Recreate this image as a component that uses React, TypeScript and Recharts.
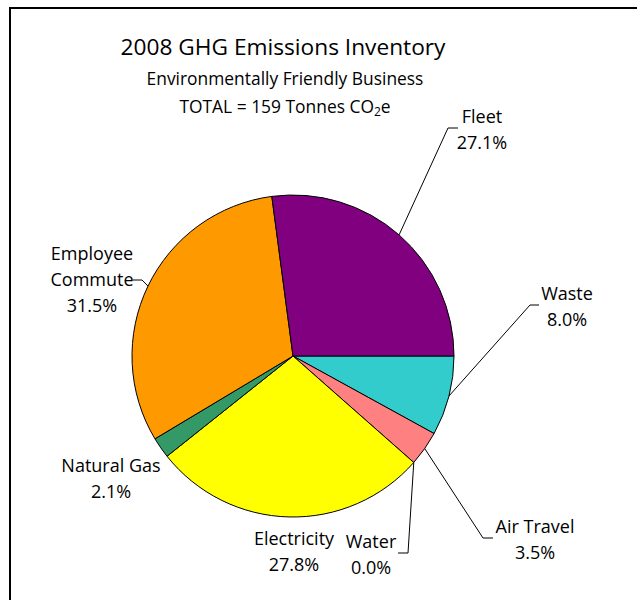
import React from 'react';
import { PieChart, Pie, Cell } from 'recharts';

const categories = ['Waste', 'Air Travel', 'Water', 'Electricity', 'Natural Gas', 'Employee Commute', 'Fleet'];
const shares = [8.0, 3.5, 0.0, 27.8, 2.1, 31.5, 27.1];
const sliceColors = ['#33CCCC', '#FF8080', '#3366FF', '#FFFF00', '#339966', '#FF9900', '#800080'];
const labelLines: Record<string, string[]> = {
  'Waste': ['Waste'],
  'Air Travel': ['Air Travel'],
  'Water': ['Water'],
  'Electricity': ['Electricity'],
  'Natural Gas': ['Natural Gas'],
  'Employee Commute': ['Employee', 'Commute'],
  'Fleet': ['Fleet'],
};
const titleText = '2008 GHG Emissions Inventory';
const subtitleText = 'Environmentally Friendly Business';

const data = categories.map((name, i) => ({ name, value: shares[i], color: sliceColors[i] }));

// label layout: text center x, first baseline y, leader elbow and end (null = no leader)
const labelLayout: Record<string, { x: number; y: number; elbow?: [number, number]; end?: [number, number] }> = {
  'Fleet': { x: 482, y: 123, elbow: [448, 128], end: [458, 128] },
  'Waste': { x: 567, y: 300, elbow: [530, 305], end: [539, 305] },
  'Air Travel': { x: 535, y: 533, elbow: [483, 538], end: [493, 538] },
  'Water': { x: 371, y: 548, elbow: [408, 553], end: [398, 553] },
  'Electricity': { x: 294, y: 545 },
  'Natural Gas': { x: 111, y: 472 },
  'Employee Commute': { x: 92, y: 260, elbow: [142, 280], end: [133, 280] },
};

const FONT = '"Open Sans", sans-serif';
const RADIAN = Math.PI / 180;

const renderLabel = (props: any) => {
  const { cx, cy, midAngle, outerRadius, name, value } = props;
  const lay = labelLayout[name];
  if (!lay) return null;
  const lines = [...labelLines[name], `${Number(value).toFixed(1)}%`];
  const ex = cx + outerRadius * Math.cos(-midAngle * RADIAN);
  const ey = cy + outerRadius * Math.sin(-midAngle * RADIAN);
  return (
    <g key={`lbl-${name}`}>
      {lay.elbow && lay.end && (
        <polyline
          points={`${ex},${ey} ${lay.elbow[0]},${lay.elbow[1]} ${lay.end[0]},${lay.end[1]}`}
          fill="none"
          stroke="#000"
          strokeWidth={1}
        />
      )}
      {lines.map((t, i) => (
        <text
          key={i}
          x={lay.x}
          y={lay.y + i * 26}
          textAnchor="middle"
          fontFamily={FONT}
          fontSize={18}
          fill="#000"
        >
          {t}
        </text>
      ))}
    </g>
  );
};

export default function App() {
  return (
    <div style={{ position: 'absolute', left: 0, top: 0, width: 637, height: 600, overflow: 'hidden', background: '#fff' }}>
      <div
        style={{
          position: 'absolute',
          left: 9,
          top: 7,
          width: 700,
          height: 700,
          border: '2px solid #000',
          boxSizing: 'border-box',
        }}
      />
      <svg width={637} height={600} style={{ position: 'absolute', left: 0, top: 0 }}>
        <text x={283} y={55} textAnchor="middle" fontFamily={FONT} fontSize={22.7} fill="#000">
          {titleText}
        </text>
        <text x={285} y={85} textAnchor="middle" fontFamily={FONT} fontSize={17.4} fill="#000">
          {subtitleText}
        </text>
        <text x={285} y={113} textAnchor="middle" fontFamily={FONT} fontSize={17.4} fill="#000">
          TOTAL = 159 Tonnes CO<tspan fontSize={12} dy={3}>2</tspan>
          <tspan dy={-3}>e</tspan>
        </text>
      </svg>
      <div style={{ position: 'absolute', left: 0, top: 0 }}>
        <PieChart width={637} height={600} margin={{ top: 0, right: 0, bottom: 0, left: 0 }}>
          <Pie
            data={data}
            dataKey="value"
            nameKey="name"
            cx={293}
            cy={356}
            outerRadius={161}
            startAngle={0}
            endAngle={-360}
            stroke="#000"
            strokeWidth={1}
            isAnimationActive={false}
            labelLine={false}
            label={renderLabel}
          >
            {data.map((d, i) => (
              <Cell key={i} fill={d.color} />
            ))}
          </Pie>
        </PieChart>
      </div>
    </div>
  );
}
